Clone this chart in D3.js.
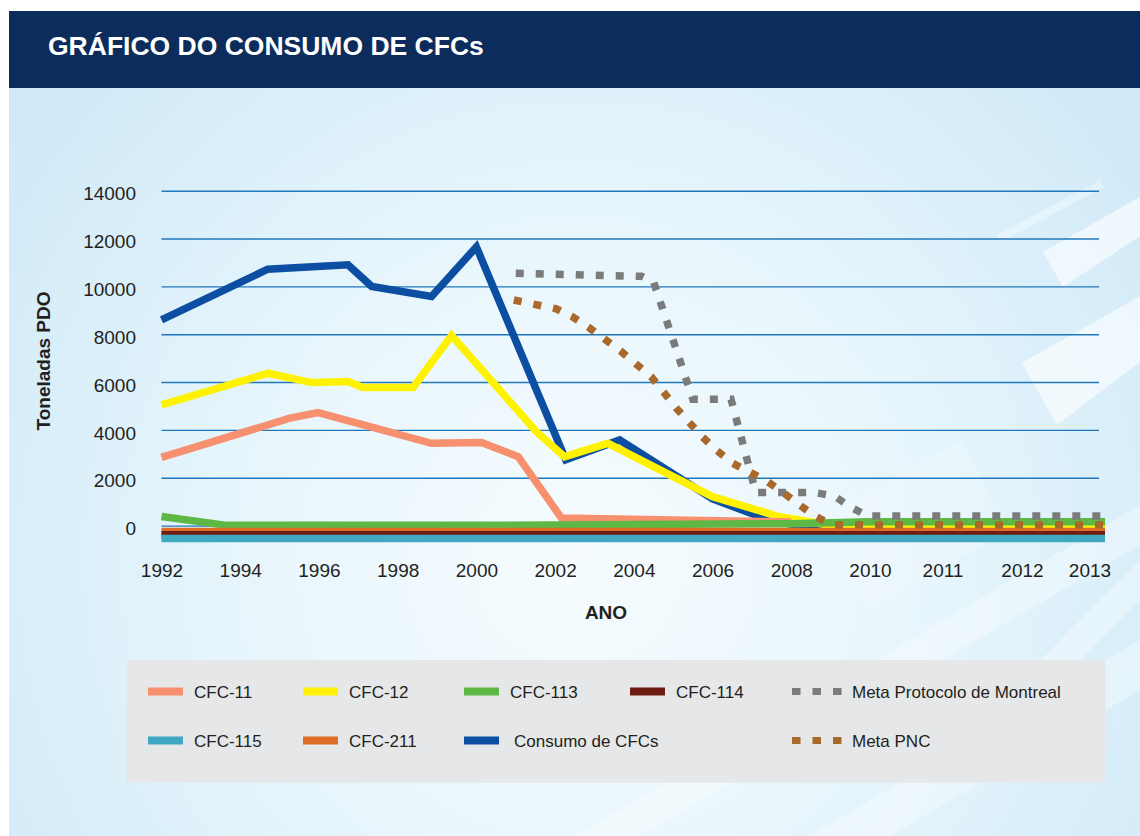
<!DOCTYPE html>
<html>
<head>
<meta charset="utf-8">
<script src="https://cdn.jsdelivr.net/npm/d3@7"></script>
<style>
  body { margin: 0; background: #ffffff; }
  svg { display: block; }
  text { font-family: "Liberation Sans", Arial, Helvetica, sans-serif; fill: #231f20; }
</style>
</head>
<body>
<svg id="chart" width="1140" height="836"></svg>
<script>
// ---- Tick labels ----
const anoTicks = [1992, 1994, 1996, 1998, 2000, 2002, 2004, 2006, 2008, 2010, 2011, 2012, 2013];
const pdoTicks = [0, 2000, 4000, 6000, 8000, 10000, 12000, 14000];

// ---- Series: [ano, toneladas PDO] ----
const consumoCFCs = [[1992, 8600], [1994.7, 10720], [1996.74, 10900], [1997.34, 10000], [1998.86, 9580],
  [2000, 11650], [2002.27, 2750], [2003.64, 3580], [2006, 1120], [2007.2, 370], [2008, 60], [2013.23, 0]];
const cfc12 = [[1992, 5050], [1994.71, 6370], [1995.81, 5980], [1996.74, 6020], [1997.12, 5770], [1998.39, 5770],
  [1999.37, 7950], [2001.52, 3930], [2002.24, 2880], [2003.34, 3440], [2006, 1210], [2007.7, 370],
  [2008.5, 150], [2009.2, -60], [2013.23, -60]];
const cfc11 = [[1992, 2850], [1995.26, 4490], [1995.98, 4720], [1998.86, 3440], [2000.13, 3470], [2001.06, 2880],
  [2002.16, 320], [2005, 230], [2008, 150]];
const cfc113 = [[1992, 380], [1993.65, 10], [2002, 20], [2008, 80], [2010, 160], [2013.23, 160]];
const cfc211 = [[1992, -250], [2013.23, -250]];
const cfc114 = [[1992, -380], [2013.23, -380]];
const cfc115 = [[1992, -535], [2013.23, -535]];
const metaMontreal = [[2001, 10550], [2004.2, 10420], [2004.5, 10200], [2005.5, 5280], [2006.47, 5280],
  [2007.1, 1380], [2008.6, 1380], [2009.1, 1230], [2009.5, 780], [2009.95, 400], [2013.23, 400]];
const metaPNC = [[2000.95, 9430], [2002.03, 9060], [2002.45, 8720], [2002.88, 8255], [2003.68, 7276],
  [2004.44, 6230], [2005.08, 4908], [2005.75, 3695], [2006.09, 3160], [2006.51, 2607], [2006.98, 2210],
  [2007.4, 1837], [2007.82, 1350], [2008.21, 862], [2008.63, 372], [2009.04, 25], [2013.23, 25]];

// drawing order (later series sit on top)
const series = [
  { name: "Consumo de CFCs", data: consumoCFCs, color: "#0b4ea2" },
  { name: "CFC-12", data: cfc12, color: "#fff200" },
  { name: "CFC-11", data: cfc11, color: "#f7906f" },
  { name: "CFC-113", data: cfc113, color: "#5db845" },
  { name: "CFC-211", data: cfc211, color: "#e06d26" },
  { name: "CFC-114", data: cfc114, color: "#6e1d12" },
  { name: "CFC-115", data: cfc115, color: "#41a8c1" },
  { name: "Meta Protocolo de Montreal", data: metaMontreal, color: "#7b7b7b", dashed: true },
  { name: "Meta PNC", data: metaPNC, color: "#a8692b", dashed: true }
];

const legendRows = [
  ["CFC-11", "CFC-12", "CFC-113", "CFC-114", "Meta Protocolo de Montreal"],
  ["CFC-115", "CFC-211", "Consumo de CFCs", null, "Meta PNC"]
];

const svg = d3.select("#chart");
const defs = svg.append("defs");

// ---- background panel ----
const rg = defs.append("radialGradient").attr("id", "bg")
  .attr("gradientUnits", "userSpaceOnUse").attr("cx", 580).attr("cy", 560).attr("r", 720);
rg.append("stop").attr("offset", 0).attr("stop-color", "#f6fcfe");
rg.append("stop").attr("offset", 0.45).attr("stop-color", "#e8f6fc");
rg.append("stop").attr("offset", 1).attr("stop-color", "#cfe9f7");

defs.append("clipPath").attr("id", "panel")
  .append("rect").attr("x", 9).attr("y", 88).attr("width", 1131).attr("height", 748);

svg.append("rect").attr("x", 9).attr("y", 88).attr("width", 1131).attr("height", 748).attr("fill", "url(#bg)");

const deco = svg.append("g").attr("clip-path", "url(#panel)").attr("fill", "#ffffff");
const shapes = [
  { p: [[997, 235], [1100, 180], [1104, 187], [1001, 242]], o: 0.35 },
  { p: [[1043, 252], [1140, 197], [1140, 236], [1063, 287]], o: 0.6 },
  { p: [[1022, 363], [1140, 296], [1140, 362], [1057, 425]], o: 0.6 },
  { p: [[575, 836], [1140, 505], [1140, 545], [640, 836]], o: 0.35 },
  { p: [[810, 836], [1140, 640], [1140, 690], [890, 836]], o: 0.35 },
  { p: [[1000, 700], [1140, 560], [1140, 600], [1030, 710]], o: 0.3 },
  { p: [[820, 520], [960, 440], [1010, 530], [870, 610]], o: 0.18 }
];
shapes.forEach(s => deco.append("polygon").attr("points", s.p.map(d => d.join(",")).join(" ")).attr("opacity", s.o));

// ---- header ----
svg.append("rect").attr("x", 9).attr("y", 11).attr("width", 1131).attr("height", 77).attr("fill", "#0c2d5b");
svg.append("text").attr("x", 48).attr("y", 55)
  .style("font-size", "26.5px").style("font-weight", "bold").style("fill", "#ffffff")
  .text("GRÁFICO DO CONSUMO DE CFCs");

// ---- scales ----
const x = d3.scaleLinear()
  .domain([1992, 2010, 2011, 2012, 2013])
  .range([161.5, 870, 942.5, 1022, 1089.5]);
const y = d3.scaleLinear().domain([0, 14000]).range([525.6, 190.7]);
const gridRight = 1099;

// ---- y axis + gridlines ----
const yAxis = svg.append("g").attr("transform", `translate(${x(1992)},0)`)
  .call(d3.axisLeft(y).tickValues(pdoTicks).tickSize(-(gridRight - x(1992))).tickPadding(25.5).tickFormat(d3.format("d")));
yAxis.select(".domain").remove();
yAxis.selectAll(".tick line").attr("stroke", "#1f77bc").attr("stroke-width", 1.4);
yAxis.selectAll(".tick text").attr("y", 3).style("font-size", "19px").style("fill", "#231f20");

// ---- x axis ----
const xAxis = svg.append("g").attr("transform", `translate(0,${y(0)})`)
  .call(d3.axisBottom(x).tickValues(anoTicks).tickSize(0).tickPadding(38).tickFormat(d3.format("d")));
xAxis.select(".domain").remove();
xAxis.selectAll(".tick text").style("font-size", "19px").style("fill", "#231f20");

// axis titles
svg.append("text").attr("transform", "translate(50,361) rotate(-90)").attr("text-anchor", "middle")
  .style("font-size", "19px").style("font-weight", "bold").text("Toneladas PDO");
svg.append("text").attr("x", 606).attr("y", 619).attr("text-anchor", "middle")
  .style("font-size", "19px").style("font-weight", "bold").text("ANO");

// ---- lines ----
const line = d3.line().x(d => x(d[0])).y(d => y(d[1]));
const lines = svg.append("g");
series.forEach(s => {
  lines.append("path").datum(s.data)
    .attr("d", line)
    .attr("fill", "none")
    .attr("stroke", s.color)
    .attr("stroke-width", 7.5)
    .attr("stroke-linejoin", s.dashed ? "miter" : "miter")
    .attr("stroke-linecap", "butt")
    .attr("stroke-dasharray", s.dashed ? "8,12" : null);
});

// ---- legend ----
svg.append("rect").attr("x", 126.5).attr("y", 660).attr("width", 979).attr("height", 122.7).attr("fill", "#e6e7e8");
const colX = [148, 303, 464, 630, 792];
const rowY = [691.5, 740.5];
const byName = new Map(series.map(s => [s.name, s]));
legendRows.forEach((row, ri) => {
  row.forEach((name, ci) => {
    if (!name) return;
    const s = byName.get(name);
    const g = svg.append("g").attr("transform", `translate(${colX[ci]},${rowY[ri]})`);
    if (s.dashed) {
      [0, 1, 2].forEach(k => g.append("rect").attr("x", k * 20.5).attr("y", -3.5)
        .attr("width", 8.5).attr("height", 7).attr("fill", s.color));
      g.append("text").attr("x", 60).attr("y", 6).style("font-size", "17px").text(name);
    } else {
      g.append("rect").attr("x", 0).attr("y", -4).attr("width", 35).attr("height", 8).attr("fill", s.color);
      g.append("text").attr("x", name === "Consumo de CFCs" ? 50 : 46).attr("y", 6).style("font-size", "17px").text(name);
    }
  });
});
</script>
</body>
</html>
